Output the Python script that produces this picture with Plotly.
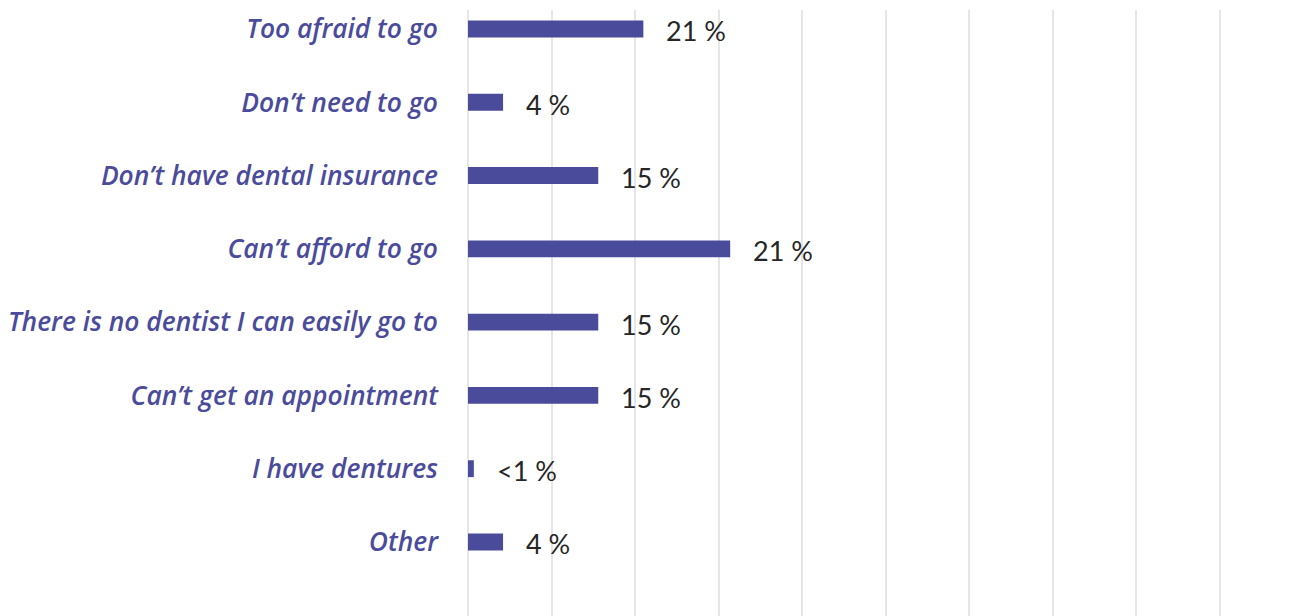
import plotly.graph_objects as go

categories = [
    "Too afraid to go",
    "Don’t need to go",
    "Don’t have dental insurance",
    "Can’t afford to go",
    "There is no dentist I can easily go to",
    "Can’t get an appointment",
    "I have dentures",
    "Other",
]
values = [21.0, 4.2, 15.6, 31.4, 15.6, 15.6, 0.7, 4.2]
value_labels = ["21 %", "4 %", "15 %", "21 %", "15 %", "15 %", "<1 %", "4 %"]
x_ticks = [0, 10, 20, 30, 40, 50, 60, 70, 80, 90, 100]

purple = "#4B4B9B"
positions = list(range(len(categories)))

fig = go.Figure()
fig.add_trace(go.Bar(
    x=values,
    y=positions,
    orientation="h",
    width=0.23,
    marker=dict(color=purple, line=dict(width=0)),
    hoverinfo="skip",
))

for p, v, t in zip(positions, values, value_labels):
    fig.add_annotation(
        x=v, y=p, text=t, showarrow=False, xanchor="left", yanchor="middle",
        xshift=21, yshift=-2, font=dict(family="Lato", size=27, color="#262626"),
    )

fig.update_layout(
    width=1290, height=608,
    margin=dict(l=460, r=0, t=2, b=0),
    paper_bgcolor="white", plot_bgcolor="white",
    showlegend=False,
    xaxis=dict(
        range=[0, 99.4], tickvals=x_ticks, showticklabels=False,
        showgrid=True, gridcolor="#e6e6e6", gridwidth=2,
        zeroline=True, zerolinecolor="#e6e6e6", zerolinewidth=2,
        fixedrange=True,
    ),
    yaxis=dict(
        range=[8.01, -0.259], tickvals=positions, ticktext=categories,
        showgrid=False, zeroline=False, ticks="",
        ticklabelstandoff=29,
        tickfont=dict(family="Open Sans", size=26.4, color=purple, weight=600, style="italic"),
        fixedrange=True,
    ),
)

fig.write_html("out.html")
